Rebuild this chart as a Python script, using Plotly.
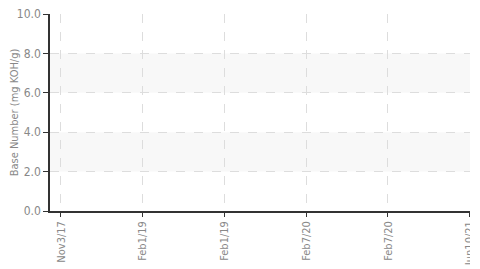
import plotly.graph_objects as go

categories = ["Nov3/17", "Feb1/19", "Feb1/19", "Feb7/20", "Feb7/20", "Jun10/21"]
base_number = [None, None, None, None, None, None]
y_ticks = [0, 2, 4, 6, 8, 10]
bands = [(2, 4), (6, 8)]

FONT = "DejaVu Sans Condensed, Liberation Sans Narrow, sans-serif"
x_idx = list(range(len(categories)))

fig = go.Figure()
fig.add_trace(go.Scatter(x=x_idx, y=base_number, mode="lines+markers",
                         line=dict(color="#1f77b4"), showlegend=False))

for lo, hi in bands:
    fig.add_shape(type="rect", xref="paper", yref="y", x0=0, x1=1, y0=lo, y1=hi,
                  fillcolor="#f8f8f8", line=dict(width=0), layer="below")

fig.update_layout(
    width=462, height=261, autosize=False,
    margin=dict(l=42, r=0, t=6, b=58),
    paper_bgcolor="white", plot_bgcolor="rgba(0,0,0,0)",
    font=dict(family=FONT, size=11, color="#888"),
    xaxis=dict(
        range=[-0.1345, 5.004], tickmode="array", tickvals=x_idx, ticktext=categories,
        tickangle=-90, showgrid=True, gridcolor="#dddddd", griddash="dash", gridwidth=1,
        showline=True, linecolor="#333", linewidth=1.5, ticklabeloverflow="allow",
        automargin=False,
        ticks="outside", ticklen=4, tickcolor="#333", zeroline=False,
        tickfont=dict(family=FONT, size=11, color="#888"),
    ),
    yaxis=dict(
        range=[0, 10], tickmode="array", tickvals=y_ticks, tickformat=".1f",
        showgrid=True, gridcolor="#dddddd", griddash="dash", gridwidth=1,
        showline=True, linecolor="#333", linewidth=1.5, ticklabeloverflow="allow",
        automargin=False,
        ticks="outside", ticklen=5, tickcolor="#333", zeroline=False,
        tickfont=dict(family=FONT, size=12, color="#888"),
        title=dict(text="Base Number (mg KOH/g)", font=dict(family=FONT, size=11, color="#888"), standoff=9),
    ),
)

fig.write_html("out.html")
